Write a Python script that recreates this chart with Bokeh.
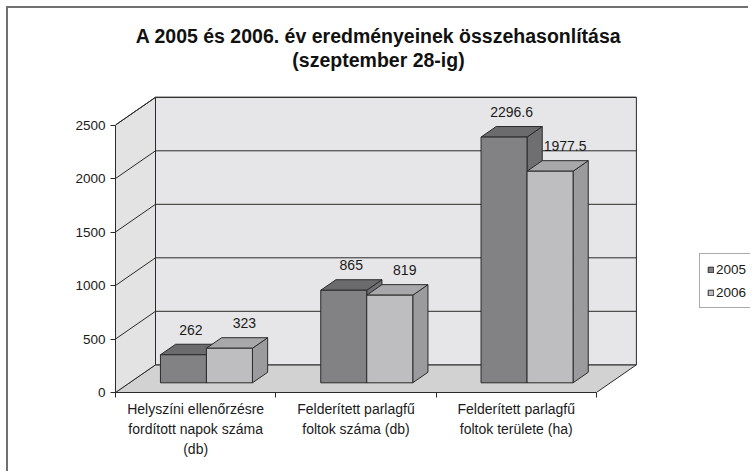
from bokeh.plotting import figure
from bokeh.models import Range1d, FixedTicker, Label, Legend, LegendItem
from bokeh.core.properties import value
from bokeh.embed import file_html
from bokeh.resources import INLINE

# ---------------- data ----------------
categories = [
    "Helyszíni ellenőrzésre\nfordított napok száma\n(db)",
    "Felderített parlagfű\nfoltok száma (db)",
    "Felderített parlagfű\nfoltok területe (ha)",
]
series_names = ["2005", "2006"]
values_2005 = [262, 865, 2296.6]
values_2006 = [323, 819, 1977.5]
y_ticks = [0, 500, 1000, 1500, 2000, 2500]
title_lines = ["A 2005 és 2006. év eredményeinek összehasonlítása", "(szeptember 28-ig)"]

# ---------------- style / layout ----------------
FONT = "Liberation Sans"
OFF = 8                   # canvas origin on the page (6px margin + 2px border)
W, H = 742, 465
ML = 115 - OFF
MB = H - (392 - OFF)
PX_CAT = 160.3            # pixels per category
PX_UNIT = 53.5 / 500      # pixels per value unit
DX = 40 / PX_CAT          # 3D depth, x (category units)
DY = 27.7 / PX_UNIT       # 3D depth, y (value units)
FRONT, BACK = 0.35, 0.73  # bar depth fractions
BAR_W = 0.287
SHIFT = -0.02
LABEL_DX = [7.5, 15]      # px
LABEL_DY = 25             # px
front_cols = ["#828285", "#bebec1"]
top_cols = ["#6b6b6e", "#a8a8ab"]
side_cols = ["#6f6f71", "#9b9b9e"]
EDGE = "#2a2a2a"

ncat = len(categories)
ymax = y_ticks[-1]
frame_left = OFF + ML
frame_bottom = OFF + H - MB

p = figure(width=W, height=H, output_backend="svg", toolbar_location=None,
           x_range=Range1d(0, (W - ML) / PX_CAT), y_range=Range1d(0, (H - MB) / PX_UNIT),
           min_border_left=ML, min_border_right=0, min_border_top=0, min_border_bottom=MB)
p.styles = {"margin-left": "6px", "margin-top": "6px",
            "border-left": "2px solid #707070", "border-top": "2px solid #707070"}
p.outline_line_color = None
p.grid.visible = False
p.background_fill_color = "white"
p.border_fill_color = "white"

# walls and floor
p.patch([0, ncat, ncat + DX, DX], [0, 0, DY, DY], fill_color="#d2d2d2", line_color=EDGE, line_width=1)
p.patch([0, 0, DX, DX], [0, ymax, ymax + DY, DY], fill_color="#e3e3e3", line_color=EDGE, line_width=1)
p.patch([DX, ncat + DX, ncat + DX, DX], [DY, DY, ymax + DY, ymax + DY],
        fill_color="#e6e6e8", line_color=EDGE, line_width=1)
gv = y_ticks[1:]
p.segment(x0=[DX] * len(gv), y0=[v + DY for v in gv], x1=[ncat + DX] * len(gv), y1=[v + DY for v in gv],
          line_color=EDGE, line_width=1)
p.segment(x0=[0] * len(gv), y0=gv, x1=[DX] * len(gv), y1=[v + DY for v in gv],
          line_color=EDGE, line_width=1)

# bars
legend_items = []
for s, vals in enumerate([values_2005, values_2006]):
    L, R, B, T = [], [], [], []
    txs, tys, sxs, sys_ = [], [], [], []
    lx, ly, lt = [], [], []
    for i, v in enumerate(vals):
        x0 = i + 0.5 + SHIFT + (s - 1) * BAR_W
        x1 = x0 + BAR_W
        fx, fy = FRONT * DX, FRONT * DY
        bx, by = BACK * DX, BACK * DY
        L.append(x0 + fx); R.append(x1 + fx); B.append(fy); T.append(v + fy)
        txs.append([x0 + fx, x1 + fx, x1 + bx, x0 + bx])
        tys.append([v + fy, v + fy, v + by, v + by])
        sxs.append([x1 + fx, x1 + bx, x1 + bx, x1 + fx])
        sys_.append([fy, by, v + by, v + fy])
        lx.append((x0 + x1) / 2 + fx + LABEL_DX[s] / PX_CAT)
        ly.append(v + fy + LABEL_DY / PX_UNIT)
        lt.append(f"{v:g}")
    p.patches(sxs, sys_, fill_color=side_cols[s], line_color=EDGE, line_width=1)
    p.patches(txs, tys, fill_color=top_cols[s], line_color=EDGE, line_width=1)
    r = p.quad(left=L, right=R, bottom=B, top=T, fill_color=front_cols[s], line_color=EDGE, line_width=1)
    legend_items.append(LegendItem(label=series_names[s], renderers=[r]))
    p.text(x=lx, y=ly, text=lt, text_align="center", text_baseline="middle",
           text_font=value(FONT), text_font_size="14px", text_color="#1a1a1a")

# title (page pixel targets converted through the scales)
title_x_px = 378
title_y_px = [35, 59]
for line, ty in zip(title_lines, title_y_px):
    p.add_layout(Label(x=(title_x_px - frame_left) / PX_CAT, y=(frame_bottom - ty) / PX_UNIT, text=line,
                       text_align="center", text_baseline="middle", text_font=FONT,
                       text_font_size="19.5px", text_font_style="bold", text_color="#111111"))

# axes
ya = p.yaxis[0]
ya.ticker = FixedTicker(ticks=y_ticks, minor_ticks=[])
ya.bounds = (0, ymax)
ya.axis_line_color = EDGE
ya.major_tick_line_color = EDGE
ya.major_tick_out = 5
ya.major_tick_in = 0
ya.major_label_standoff = 5
ya.major_label_text_font = FONT
ya.major_label_text_font_size = "13.5px"
ya.major_label_text_color = "#1a1a1a"

xa = p.xaxis[0]
xa.ticker = FixedTicker(ticks=[i + 0.5 for i in range(ncat)], minor_ticks=list(range(ncat + 1)))
xa.major_label_overrides = {i + 0.5: c for i, c in enumerate(categories)}
xa.bounds = (0, ncat)
xa.axis_line_color = EDGE
xa.major_tick_out = 0
xa.major_tick_in = 0
xa.minor_tick_out = 5
xa.minor_tick_in = 0
xa.minor_tick_line_color = EDGE
xa.major_label_standoff = 3
xa.major_label_text_font = FONT
xa.major_label_text_font_size = "14px"
xa.major_label_text_line_height = 1.27
xa.major_label_text_color = "#1a1a1a"

legend = Legend(items=legend_items, location=(699 - frame_left, frame_bottom - 308), orientation="vertical",
                label_text_font=FONT, label_text_font_size="13.5px", label_text_color="#1a1a1a",
                glyph_width=7, glyph_height=7, label_height=16, label_standoff=2,
                spacing=7, padding=7, margin=0,
                border_line_color="#555555", border_line_width=1,
                background_fill_color="white", background_fill_alpha=1)
p.add_layout(legend)

open("out.html", "w").write(file_html(p, INLINE))
